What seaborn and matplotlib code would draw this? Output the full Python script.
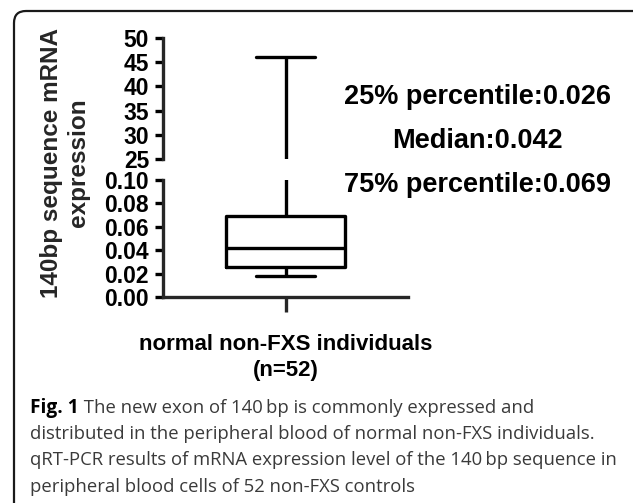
import numpy as np
import pandas as pd
import matplotlib
matplotlib.use("Agg")
import matplotlib.pyplot as plt
import seaborn as sns
from matplotlib.patches import FancyBboxPatch
from matplotlib.transforms import IdentityTransform
from matplotlib.ticker import FixedLocator

# ---- data ----
category = ["normal non-FXS individuals\n(n=52)"]
# five-number summary (min, Q1, median, Q3, max)
values = [0.018, 0.026, 0.042, 0.069, 46.0]
lower_ticks = [0.00, 0.02, 0.04, 0.06, 0.08, 0.10]
upper_ticks = [25, 30, 35, 40, 45, 50]
stat_labels = ["25% percentile:0.026", "Median:0.042", "75% percentile:0.069"]
ylabel = "140bp sequence mRNA\nexpression"
caption_bold = "Fig. 1"
caption_lines = [
    " The new exon of 140\u2009bp is commonly expressed and",
    "distributed in the peripheral blood of normal non-FXS individuals.",
    "qRT-PCR results of mRNA expression level of the 140\u2009bp sequence in",
    "peripheral blood cells of 52 non-FXS controls",
]

df = pd.DataFrame({"group": category * len(values), "value": values})

sns.set_theme(style="ticks")
plt.rcParams["font.family"] = ["Liberation Sans", "DejaVu Sans"]

W, H = 633, 503
fig = plt.figure(figsize=(W / 100, H / 100), dpi=100)

def fx(px):
    return px / W

def fy(py):
    return 1 - py / H

LW = 2.4
left, right = 163, 408
ax_up = fig.add_axes([fx(left), fy(159), fx(right - left), (159 - 38) / H])
ax_lo = fig.add_axes([fx(left), fy(297), fx(right - left), (297 - 180) / H])

for ax in (ax_up, ax_lo):
    sns.boxplot(data=df, x="group", y="value", ax=ax, whis=(0, 100),
                fill=False, color="black", linecolor="black", linewidth=LW,
                width=0.486, showfliers=False)
    ax.set_xlim(-0.5, 0.5)
    ax.set_facecolor("none")
    for s in ("top", "right"):
        ax.spines[s].set_visible(False)
    ax.spines["left"].set_linewidth(LW)
    ax.spines["bottom"].set_linewidth(LW)
    ax.set_ylabel("")
    ax.set_xlabel("")
    ax.tick_params(axis="y", direction="out", length=6, width=LW, pad=4,
                   labelsize=16.5, color="black", labelcolor="black")
    for t in ax.get_yticklabels():
        t.set_fontweight("bold")

# upper segment
ax_up.set_ylim(upper_ticks[0], upper_ticks[-1])
ax_up.set_yticks(upper_ticks)
ax_up.set_yticklabels([str(v) for v in upper_ticks], fontweight="bold")
ax_up.spines["bottom"].set_visible(False)
ax_up.xaxis.set_visible(False)
ax_up.yaxis.set_minor_locator(FixedLocator([upper_ticks[0]]))
ax_up.tick_params(axis="y", which="minor", direction="inout", length=11, width=LW)

# lower segment
ax_lo.set_ylim(lower_ticks[0], lower_ticks[-1])
ax_lo.set_yticks(lower_ticks)
ax_lo.set_yticklabels([f"{v:.2f}" for v in lower_ticks], fontweight="bold")
ax_lo.yaxis.set_minor_locator(FixedLocator([lower_ticks[-1]]))
ax_lo.tick_params(axis="y", which="minor", direction="inout", length=11, width=LW)
ax_lo.tick_params(axis="x", direction="out", length=11, width=LW, pad=16,
                  labelsize=16, labelcolor="black")
for t in ax_lo.get_xticklabels():
    t.set_fontweight("bold")
    t.set_linespacing(1.3)

# y label spanning both segments
fig.text(fx(65), fy(163), ylabel, rotation=90, ha="center", va="center",
         fontsize=17.5, fontweight="bold", linespacing=1.2, multialignment="center")

# summary statistics text
for txt, py in zip(stat_labels, [97, 141, 185]):
    fig.text(fx(477), fy(py), txt, ha="center", va="center",
             fontsize=19.5, fontweight="bold", color="black")

# rounded frame
frame = FancyBboxPatch((14, -20), 640, 503 - 11 + 20,
                       boxstyle="round,pad=0,rounding_size=12",
                       transform=IdentityTransform(), fill=False,
                       edgecolor="#1a1a1a", linewidth=1.6, zorder=10)
fig.patches.append(frame)

# caption
cap_font = ["Open Sans", "DejaVu Sans"]
cap_size = 13.3
base_y = [413, 439, 465, 492]
fb = fig.text(fx(30), fy(base_y[0]), caption_bold, fontsize=cap_size + 0.5,
              fontweight="bold", family=cap_font, color="black", va="baseline")
fig.canvas.draw()
bb = fb.get_window_extent()
fig.text((bb.x1) / W, fy(base_y[0]), caption_lines[0], fontsize=cap_size,
         family=cap_font, color="#3a3a3a", va="baseline")
for line, py in zip(caption_lines[1:], base_y[1:]):
    fig.text(fx(30), fy(py), line, fontsize=cap_size, family=cap_font,
             color="#3a3a3a", va="baseline")

fig.savefig("out.png", dpi=100)
